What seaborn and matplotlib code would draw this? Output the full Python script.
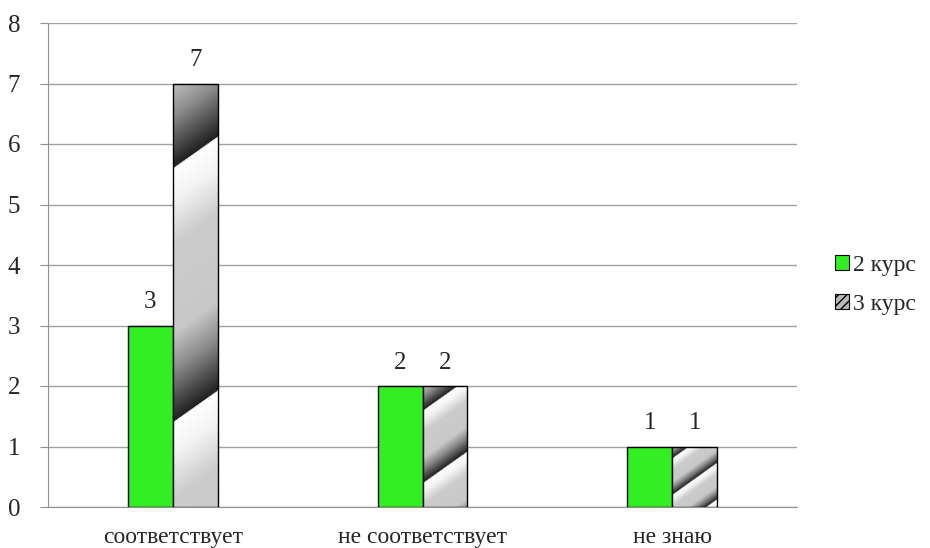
import numpy as np
import pandas as pd
import matplotlib
matplotlib.use("Agg")
import matplotlib.pyplot as plt
import seaborn as sns
from matplotlib.colors import LinearSegmentedColormap
from matplotlib.patches import Patch

categories = ["соответствует", "не соответствует", "не знаю"]
series = ["2 курс", "3 курс"]
kurs2 = [3, 2, 1]
kurs3 = [7, 2, 1]

df = pd.DataFrame({
    "cat": categories * 2,
    "series": [series[0]] * 3 + [series[1]] * 3,
    "value": kurs2 + kurs3,
})

sns.set_style("white")
plt.rcParams["font.family"] = ["Liberation Serif", "DejaVu Serif"]

fig = plt.figure(figsize=(9.3, 5.48), dpi=100)
ax = fig.add_axes([48 / 930, 41 / 548, 749 / 930, 484 / 548])

green = "#33ee22"
sns.barplot(data=df, x="cat", y="value", hue="series", order=categories,
            hue_order=series, palette=[green, "#cccccc"], width=0.36, saturation=1,
            edgecolor="black", linewidth=1, legend=False, ax=ax, zorder=3)

ax.set_ylim(0, 8)
ax.set_xlim(-0.5, 2.5)
ax.set_yticks(range(0, 9))
ax.yaxis.grid(True, color="#a0a0a0", linewidth=1)
ax.set_axisbelow(True)
for s in ["top", "right"]:
    ax.spines[s].set_visible(False)
for s in ["left", "bottom"]:
    ax.spines[s].set_color("#909090")
ax.tick_params(axis="y", left=True, length=6, color="#909090", labelsize=18, pad=14)
ax.tick_params(axis="x", bottom=False, labelsize=17, pad=11)
ax.set_xlabel("")
ax.set_ylabel("")

# gradient texture for 3 курс bars
cmap = LinearSegmentedColormap.from_list("tex", [
    (0.0, "#202020"), (0.2, "#8a8a8a"), (0.35, "#c8c8c8"), (0.7, "#cccccc"),
    (0.88, "#f4f4f4"), (1.0, "#ffffff")])
fig.canvas.draw()
bars = ax.patches
n = len(categories)
for p in bars[n:2 * n]:
    x0, y0 = p.get_x(), p.get_y()
    w, h = p.get_width(), p.get_height()
    if h <= 0:
        continue
    (px0, py0), (px1, py1) = ax.transData.transform([(x0, y0), (x0 + w, y0 + h)])
    wp, hp = px1 - px0, py1 - py0
    u = np.linspace(0, wp, 60)
    v = np.linspace(0, hp, 400)
    U, V = np.meshgrid(u, v)
    period = hp * 0.6
    tex = ((V - 0.7 * U - hp * 0.2) / period) % 1.0
    im = ax.imshow(tex, cmap=cmap, origin="lower", extent=(x0, x0 + w, y0, y0 + h),
                   aspect="auto", interpolation="bilinear", zorder=3.5)
    im.set_clip_path(p)
    p.set_zorder(4)
    p.set_facecolor("none")

ax.set_xlim(-0.5, 2.5)
ax.set_ylim(0, 8)

for p in bars[:2 * n]:
    ax.text(p.get_x() + p.get_width() / 2, p.get_height() + 0.2,
            f"{p.get_height():.0f}", ha="center", va="bottom", fontsize=18, zorder=5)

handles = [Patch(facecolor=green, edgecolor="black", linewidth=0.8),
           Patch(facecolor="#b8b8b8", edgecolor="black", linewidth=0.8, hatch="////")]
fig.legend(handles, series, loc="center left", bbox_to_anchor=(0.898, 0.48),
           frameon=False, fontsize=17, handlelength=0.6, handleheight=0.6,
           handletextpad=0.15, labelspacing=0.75, borderpad=0, borderaxespad=0)

fig.savefig("out.png", dpi=100)
